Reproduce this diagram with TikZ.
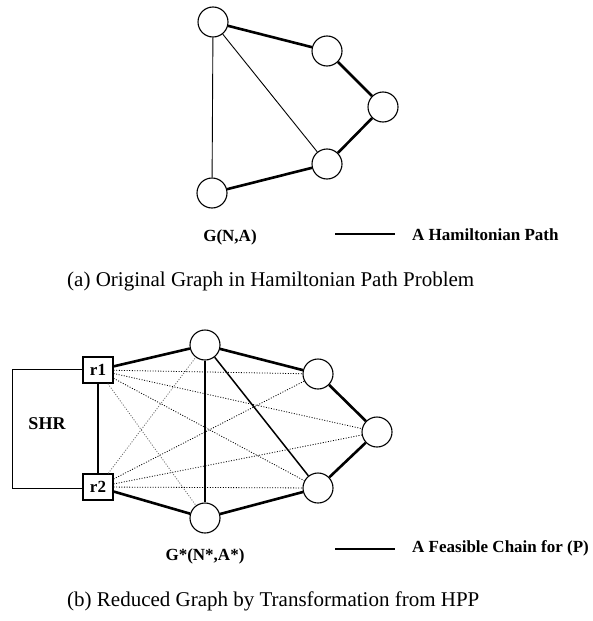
\documentclass[tikz,border=0pt]{standalone}
\usepackage{fontspec}
\setmainfont{Liberation Serif}
\begin{document}
\begin{tikzpicture}[x=1pt,y=-1pt,
  vtx/.style={circle,draw,line width=1.1pt,minimum size=30pt,inner sep=0pt,fill=white},
  rbox/.style={rectangle,draw,line width=1.2pt,minimum width=30pt,minimum height=26pt,inner sep=0pt,fill=white,font=\bfseries\fontsize{17}{19}\selectfont},
  pathedge/.style={line width=2.6pt},
  thinedge/.style={line width=0.9pt},
  midedge/.style={line width=1.5pt},
  dotedge/.style={line width=0.8pt,dash pattern=on 1pt off 1.6pt},
  lightdot/.style={dotedge,draw=black!60},
  lbl/.style={font=\bfseries\fontsize{17}{19}\selectfont,inner sep=0pt},
  captext/.style={font=\fontsize{21}{24}\selectfont,inner sep=0pt}]
\useasboundingbox (0,0) rectangle (592,621);
% (a)
\node[vtx] (a1) at (213,22) {};
\node[vtx] (a2) at (327,51) {};
\node[vtx] (a3) at (383,107) {};
\node[vtx] (a4) at (327,164) {};
\node[vtx] (a5) at (212,193) {};
\draw[thinedge] (a1) -- (a5);
\draw[thinedge] (a1) -- (a4);
\draw[pathedge] (a1) -- (a2);
\draw[pathedge] (a2) -- (a3);
\draw[pathedge] (a3) -- (a4);
\draw[pathedge] (a4) -- (a5);
\node[lbl] (ga) at (230,237) {G(N,A)};
\coordinate (la1) at (335,234);
\coordinate (la2) at (395,234);
\draw[pathedge] (la1) -- (la2);
\node[lbl,anchor=west] (ta) at (412,235) {A Hamiltonian Path};
\node[captext,anchor=west] (capa) at (67,281) {(a) Original Graph in Hamiltonian Path Problem};
% (b)
\node[rbox] (r1) at (98,370) {r1};
\node[rbox] (r2) at (98,487) {r2};
\node[vtx] (t) at (205,345) {};
\node[vtx] (bo) at (205,518) {};
\node[vtx] (rt) at (318,374) {};
\node[vtx] (rm) at (377,432) {};
\node[vtx] (rb) at (318,488) {};
\coordinate (s1) at (12,369);
\coordinate (s2) at (12,488);
\draw[thinedge] (r1.west |- s1) -- (s1) -- (s2) -- (r2.west |- s2);
\node[lbl,font=\bfseries\fontsize{18}{20}\selectfont] (shr) at (47,424) {SHR};
\draw[midedge] (r1) -- (r2);
\foreach \u/\v in {r1/rt,r1/rm,r1/rb,r2/rt,r2/rm,r2/rb}
  \draw[dotedge] (\u) -- (\v);
\draw[lightdot] (r1) -- (bo);
\draw[lightdot] (r2) -- (t);
\draw[midedge] (t) -- (bo);
\draw[midedge] (t) -- (rb);
\draw[pathedge] (r1) -- (t);
\draw[pathedge] (t) -- (rt);
\draw[pathedge] (rt) -- (rm);
\draw[pathedge] (rm) -- (rb);
\draw[pathedge] (rb) -- (bo);
\draw[pathedge] (bo) -- (r2);
\node[lbl] (gb) at (205,556) {G*(N*,A*)};
\coordinate (lb1) at (335,549);
\coordinate (lb2) at (395,549);
\draw[pathedge] (lb1) -- (lb2);
\node[lbl,anchor=west] (tb) at (412,548) {A Feasible Chain for (P)};
\node[captext,anchor=west] (capb) at (67,601) {(b) Reduced Graph by Transformation from HPP};
\end{tikzpicture}
\end{document}
